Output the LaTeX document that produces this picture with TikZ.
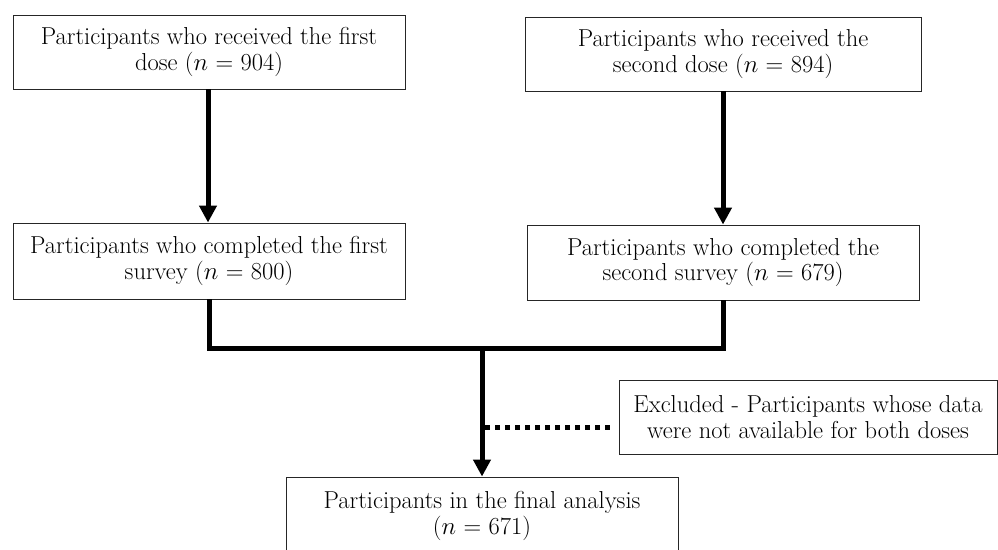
\documentclass[tikz,border=0pt]{standalone}
\usetikzlibrary{arrows.meta}
\begin{document}
\begin{tikzpicture}[x=1pt,y=-1pt,
  box/.style={draw=black!85, line width=0.9pt, fill=white, align=center, inner sep=0pt,
    font=\fontsize{24.5}{25.5}\selectfont, text=black},
  flow/.style={line width=5pt, draw=black},
  tip/.style={-{Triangle[length=17pt,width=17pt]}}]
\useasboundingbox (0,0) rectangle (998,549);
\clip (0,0) rectangle (998,549);
\node[box, minimum width=392pt, minimum height=74pt] (b1) at (209,52)
  {Participants who received the first\\dose ($n$ = 904)};
\node[box, minimum width=396pt, minimum height=74pt] (b2) at (723,54)
  {Participants who received the\\second dose ($n$ = 894)};
\node[box, minimum width=392pt, minimum height=76pt] (b3) at (209,261)
  {Participants who completed the first\\survey ($n$ = 800)};
\node[box, minimum width=392pt, minimum height=75pt] (b4) at (723,262.5)
  {Participants who completed the\\second survey ($n$ = 679)};
\node[box, minimum width=378pt, minimum height=74pt] (ex) at (808,417)
  {Excluded - Participants whose data\\were not available for both doses};
\node[box, minimum width=392pt, minimum height=78pt] (fin) at (482,516)
  {Participants in the final analysis\\($n$ = 671)};
\coordinate (j) at (482,348);
\coordinate (d) at (482,427);
\draw[flow, tip] (b1.south -| 208,0) -- (b3.north -| 208,0);
\draw[flow, tip] (b2.south) -- (b4.north);
\draw[flow] (b3.south) -- (b3.south |- j) -- (b4.south |- j) -- (b4.south);
\draw[flow, tip] (j) -- (fin.north);
\draw[line width=5pt, dash pattern=on 5pt off 5pt] ([xshift=3pt]d) -- ([xshift=-5pt]d -| ex.west);
\end{tikzpicture}
\end{document}
